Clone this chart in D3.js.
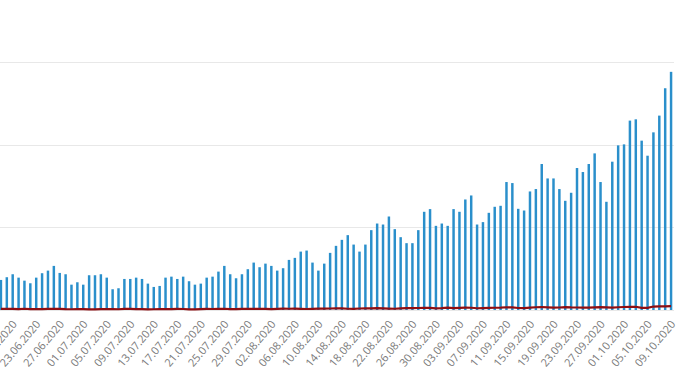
<!DOCTYPE html>
<html lang="en">
<head>
    <meta charset="UTF-8">
    <title>Casos diarios</title>
    <script src="https://d3js.org/d3.v7.min.js"></script>
    <style>
        body { margin: 0; background: #fff; }
        .bar { fill: #2a8fcb; }
        .grid line { stroke: #e8e8e8; }
        .x-axis text { fill: #7a7a7a; font-family: "Open Sans", sans-serif; font-size: 11px; }
    </style>
</head>
<body>
    <svg></svg>

    <script>
        // 17.06.2020 .. 09.10.2020
        const startDay = new Date(2020, 5, 17)
        const endDay = new Date(2020, 9, 10)

        const cases = [
            727, 793, 865, 783, 710, 647, 783, 890, 953, 1067,
            897, 865, 613, 671, 613, 841, 841, 865, 783, 502,
            526, 751, 751, 783, 751, 638, 558, 582, 783, 807,
            751, 807, 696, 613, 638, 783, 807, 929, 1067, 865,
            768, 865, 987, 1147, 1035, 1122, 1067, 953, 1011, 1212,
            1261, 1413, 1438, 1147, 953, 1122, 1382, 1552, 1697, 1811,
            1583, 1413, 1583, 1932, 2092, 2068, 2262, 1956, 1762, 1617,
            1617, 1932, 2376, 2441, 2036, 2092, 2036, 2441, 2376, 2674,
            2771, 2068, 2126, 2351, 2497, 2521, 3096, 3071, 2448, 2407,
            2868, 2926, 3532, 3183, 3183, 2926, 2642, 2836, 3435, 3338,
            3532, 3789, 3096, 2618, 3588, 3983, 4007, 4582, 4613, 4097,
            3733, 4298, 4703, 5365, 5762
        ]

        const deaths = [
            28, 25, 26, 22, 30, 20, 19, 22, 28, 25, 27, 20, 18, 23, 22, 17, 15, 21, 24, 22,
            18, 25, 27, 23, 19, 15, 18, 24, 20, 22, 26, 24, 17, 16, 20, 25, 24, 28, 30, 22,
            20, 26, 27, 29, 30, 25, 22, 28, 31, 30, 33, 29, 24, 28, 34, 35, 36, 40, 38, 30,
            28, 36, 42, 39, 44, 38, 33, 30, 40, 45, 43, 48, 52, 50, 41, 44, 55, 47, 52, 58,
            54, 42, 46, 53, 55, 57, 66, 64, 48, 44, 57, 66, 72, 65, 58,
            60, 68, 62, 61, 57, 58, 64, 70, 62, 56,
            67, 72, 75, 78, 52, 50, 84, 88, 87, 92
        ]

        const yTicks = [0, 2000, 4000, 6000]

        const width = 690
        const height = 387
        const margin = {top: 62, bottom: 77, right: 16, left: -2}

        const svg = d3.select('svg')
            .attr('width', width)
            .attr('height', height)
            .attr('viewBox', [0, 0, width, height])

        const fmt = d3.timeFormat('%d.%m.%Y')
        const days = d3.timeDay.range(startDay, endDay).map(fmt)
        const data = days.map((d, i) => ({day: d, cases: cases[i], deaths: deaths[i]}))

        const x_scale = d3.scaleBand()
            .domain(days)
            .range([margin.left, width - margin.right])
            .paddingInner(0.58)
            .paddingOuter(0.29)
        const y_scale = d3.scaleLinear()
            .domain([0, 6000])
            .range([height - margin.bottom, margin.top])

        // horizontal grid
        svg.append('g')
            .attr('class', 'grid')
            .selectAll('line')
            .data(yTicks)
            .join('line')
            .attr('x1', 0)
            .attr('x2', width - margin.right)
            .attr('y1', d => Math.round(y_scale(d)) + 0.5)
            .attr('y2', d => Math.round(y_scale(d)) + 0.5)

        svg.selectAll('rect')
            .data(data)
            .join('rect')
            .attr('class', 'bar')
            .attr('x', d => x_scale(d.day))
            .attr('y', d => y_scale(d.cases))
            .attr('width', x_scale.bandwidth())
            .attr('height', d => y_scale(0) - y_scale(d.cases))

        const line = d3.line()
            .x(d => x_scale(d.day) + x_scale.bandwidth() / 2)
            .y(d => y_scale(d.deaths))

        svg.append('path')
            .datum(data)
            .attr('fill', 'none')
            .attr('stroke', '#8e0e12')
            .attr('stroke-width', 2.2)
            .attr('d', line)

        // every 4th day, ending on the last one
        const tickDays = days.filter((d, i) => (days.length - 1 - i) % 4 === 0)

        const x_axis = d3.axisBottom(x_scale).tickValues(tickDays).tickSize(0)

        svg.append('g')
            .attr('class', 'x-axis')
            .attr('transform', `translate(0,${height - margin.bottom})`)
            .call(x_axis)
            .call(g => g.select('.domain').remove())
            .selectAll('text')
            .attr('y', 0)
            .attr('dy', '0.35em')
            .attr('text-anchor', 'end')
            .attr('transform', 'translate(2,12) rotate(-50)')
    </script>
</body>
</html>
